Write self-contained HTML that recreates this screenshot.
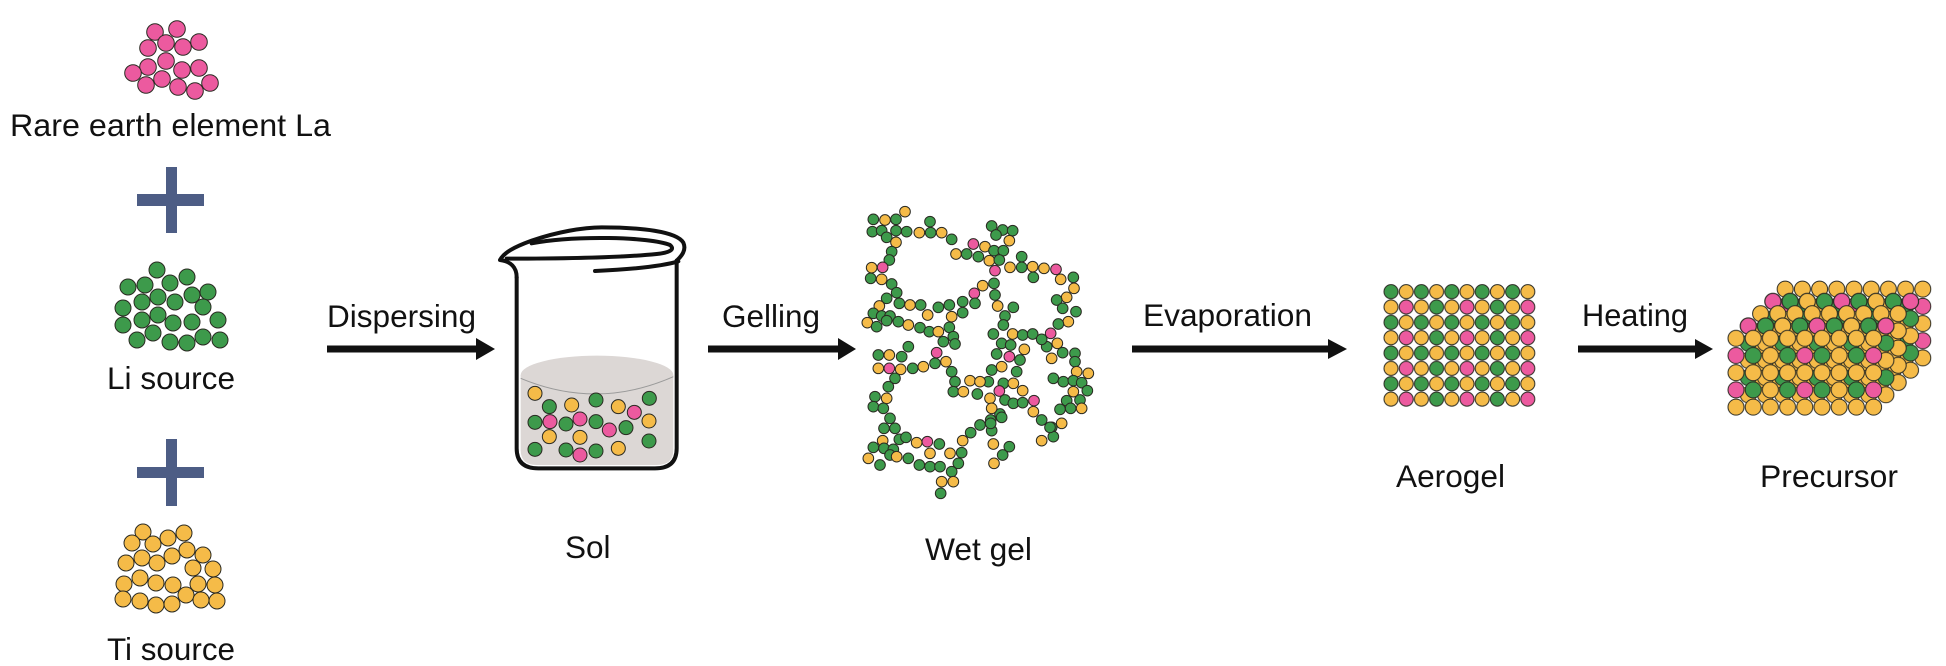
<!DOCTYPE html>
<html><head><meta charset="utf-8"><style>
html,body{margin:0;padding:0;background:#fff;}
svg{display:block;}
text{font-family:"Liberation Sans",Arial,sans-serif;font-size:31.5px;fill:#111;}
.g{fill:#3d9a4b;stroke:#2a2a22;}
.y{fill:#f5bb48;stroke:#2a2a22;}
.p{fill:#ec5a9f;stroke:#2a2a22;}
</style></head><body>
<svg width="1946" height="666" viewBox="0 0 1946 666" xmlns="http://www.w3.org/2000/svg">
<defs>
<pattern id="aer" patternUnits="userSpaceOnUse" width="60.8" height="30.7">
<g stroke-width="1">
<circle class="g" cx="7.6" cy="7.675" r="7"/><circle class="y" cx="22.8" cy="7.675" r="7"/><circle class="g" cx="38" cy="7.675" r="7"/><circle class="y" cx="53.2" cy="7.675" r="7"/>
<circle class="y" cx="7.6" cy="23.025" r="7"/><circle class="p" cx="22.8" cy="23.025" r="7"/><circle class="y" cx="38" cy="23.025" r="7"/><circle class="g" cx="53.2" cy="23.025" r="7"/>
</g></pattern>
<pattern id="pA" patternUnits="userSpaceOnUse" width="68.8" height="34.4">
<g stroke-width="1">
<circle class="y" cx="8.6" cy="8.6" r="8"/><circle class="y" cx="25.8" cy="8.6" r="8"/><circle class="y" cx="43" cy="8.6" r="8"/><circle class="y" cx="60.2" cy="8.6" r="8"/>
<circle class="p" cx="8.6" cy="25.8" r="8"/><circle class="g" cx="25.8" cy="25.8" r="8"/><circle class="y" cx="43" cy="25.8" r="8"/><circle class="g" cx="60.2" cy="25.8" r="8"/>
</g></pattern>
<pattern id="pB" patternUnits="userSpaceOnUse" width="68.8" height="34.4">
<g stroke-width="1">
<circle class="y" cx="8.6" cy="8.6" r="8"/><circle class="y" cx="25.8" cy="8.6" r="8"/><circle class="y" cx="43" cy="8.6" r="8"/><circle class="y" cx="60.2" cy="8.6" r="8"/>
<circle class="g" cx="8.6" cy="25.8" r="8"/><circle class="y" cx="25.8" cy="25.8" r="8"/><circle class="g" cx="43" cy="25.8" r="8"/><circle class="y" cx="60.2" cy="25.8" r="8"/>
</g></pattern>
<pattern id="pC" patternUnits="userSpaceOnUse" width="68.8" height="17.2">
<g stroke-width="1">
<circle class="p" cx="8.6" cy="8.6" r="8"/><circle class="g" cx="25.8" cy="8.6" r="8"/><circle class="y" cx="43" cy="8.6" r="8"/><circle class="g" cx="60.2" cy="8.6" r="8"/>
</g></pattern>
<pattern id="pY" patternUnits="userSpaceOnUse" width="17.2" height="17.2">
<circle class="y" cx="8.6" cy="8.6" r="8" stroke-width="1"/>
</pattern>
</defs>

<!-- Left column -->
<g stroke-width="1">
<circle class="p" cx="155" cy="32" r="8.3"/><circle class="p" cx="177" cy="29" r="8.3"/><circle class="p" cx="148" cy="48" r="8.3"/><circle class="p" cx="166" cy="43" r="8.3"/><circle class="p" cx="183" cy="47" r="8.3"/><circle class="p" cx="199" cy="42" r="8.3"/><circle class="p" cx="148" cy="67" r="8.3"/><circle class="p" cx="166" cy="61" r="8.3"/><circle class="p" cx="182" cy="70" r="8.3"/><circle class="p" cx="199" cy="68" r="8.3"/><circle class="p" cx="133" cy="73" r="8.3"/><circle class="p" cx="146" cy="85" r="8.3"/><circle class="p" cx="162" cy="79" r="8.3"/><circle class="p" cx="178" cy="87" r="8.3"/><circle class="p" cx="195" cy="91" r="8.3"/><circle class="p" cx="210" cy="83" r="8.3"/>
</g>
<text x="10" y="136" textLength="321" lengthAdjust="spacingAndGlyphs">Rare earth element La</text>
<rect x="137" y="194" width="67" height="12" fill="#4d5d85"/><rect x="166" y="167" width="11" height="66" fill="#4d5d85"/>
<g stroke-width="1">
<circle class="g" cx="157" cy="270" r="8"/><circle class="g" cx="145" cy="285" r="8"/><circle class="g" cx="170" cy="283" r="8"/><circle class="g" cx="187" cy="277" r="8"/><circle class="g" cx="128" cy="287" r="8"/><circle class="g" cx="208" cy="292" r="8"/><circle class="g" cx="158" cy="297" r="8"/><circle class="g" cx="192" cy="295" r="8"/><circle class="g" cx="142" cy="302" r="8"/><circle class="g" cx="175" cy="302" r="8"/><circle class="g" cx="203" cy="307" r="8"/><circle class="g" cx="123" cy="308" r="8"/><circle class="g" cx="158" cy="315" r="8"/><circle class="g" cx="142" cy="320" r="8"/><circle class="g" cx="218" cy="320" r="8"/><circle class="g" cx="173" cy="323" r="8"/><circle class="g" cx="192" cy="322" r="8"/><circle class="g" cx="123" cy="325" r="8"/><circle class="g" cx="137" cy="340" r="8"/><circle class="g" cx="153" cy="333" r="8"/><circle class="g" cx="170" cy="342" r="8"/><circle class="g" cx="187" cy="343" r="8"/><circle class="g" cx="203" cy="337" r="8"/><circle class="g" cx="220" cy="340" r="8"/>
</g>
<text x="107" y="389" textLength="128" lengthAdjust="spacingAndGlyphs">Li source</text>
<rect x="137" y="467" width="67" height="11" fill="#4d5d85"/><rect x="166" y="439" width="11" height="67" fill="#4d5d85"/>
<g stroke-width="1">
<circle class="y" cx="143" cy="532" r="8"/><circle class="y" cx="132" cy="543" r="8"/><circle class="y" cx="153" cy="544" r="8"/><circle class="y" cx="168" cy="538" r="8"/><circle class="y" cx="184" cy="533" r="8"/><circle class="y" cx="142" cy="558" r="8"/><circle class="y" cx="126" cy="563" r="8"/><circle class="y" cx="157" cy="563" r="8"/><circle class="y" cx="172" cy="556" r="8"/><circle class="y" cx="187" cy="550" r="8"/><circle class="y" cx="203" cy="555" r="8"/><circle class="y" cx="193" cy="568" r="8"/><circle class="y" cx="213" cy="569" r="8"/><circle class="y" cx="124" cy="584" r="8"/><circle class="y" cx="140" cy="578" r="8"/><circle class="y" cx="156" cy="583" r="8"/><circle class="y" cx="173" cy="585" r="8"/><circle class="y" cx="198" cy="584" r="8"/><circle class="y" cx="215" cy="585" r="8"/><circle class="y" cx="123" cy="599" r="8"/><circle class="y" cx="140" cy="601" r="8"/><circle class="y" cx="156" cy="605" r="8"/><circle class="y" cx="172" cy="604" r="8"/><circle class="y" cx="186" cy="595" r="8"/><circle class="y" cx="201" cy="600" r="8"/><circle class="y" cx="217" cy="601" r="8"/>
</g>
<text x="107" y="660" textLength="128" lengthAdjust="spacingAndGlyphs">Ti source</text>

<!-- Arrows and labels -->
<text x="327" y="327" textLength="149" lengthAdjust="spacingAndGlyphs">Dispersing</text>
<rect x="327" y="345.5" width="152" height="7" fill="#111"/><polygon points="476,338 495,349 476,360" fill="#111"/>
<text x="722" y="327" textLength="98" lengthAdjust="spacingAndGlyphs">Gelling</text>
<rect x="708" y="345.5" width="133" height="7" fill="#111"/><polygon points="838,338 856,349 838,360" fill="#111"/>
<text x="1143" y="326" textLength="169" lengthAdjust="spacingAndGlyphs">Evaporation</text>
<rect x="1132" y="345.5" width="199" height="7" fill="#111"/><polygon points="1328,339 1347,349 1328,359" fill="#111"/>
<text x="1582" y="326" textLength="106" lengthAdjust="spacingAndGlyphs">Heating</text>
<rect x="1578" y="345.5" width="120" height="7" fill="#111"/><polygon points="1695,339 1713,349 1695,359" fill="#111"/>

<!-- Beaker -->
<g transform="translate(490,190) scale(0.33333)">
<path d="M92,555 L92,780 Q92,825 140,825 L500,825 Q550,825 550,780 L550,555 Z" fill="#dcd7d5"/>
<ellipse cx="321" cy="555" rx="229" ry="58" fill="#dcd7d5"/>
<path d="M92,565 Q321,661 550,560" fill="none" stroke="#9a9a9a" stroke-width="3"/>
<g stroke-width="3">
<circle class="y" cx="135" cy="610" r="21"/><circle class="g" cx="178" cy="650" r="21"/><circle class="y" cx="245" cy="645" r="21"/><circle class="g" cx="318" cy="630" r="21"/><circle class="y" cx="385" cy="650" r="21"/><circle class="g" cx="478" cy="625" r="21"/>
<circle class="g" cx="135" cy="697" r="21"/><circle class="p" cx="180" cy="695" r="21"/><circle class="g" cx="228" cy="702" r="21"/><circle class="p" cx="270" cy="687" r="21"/><circle class="g" cx="318" cy="695" r="21"/><circle class="p" cx="358" cy="720" r="21"/><circle class="g" cx="408" cy="713" r="21"/><circle class="p" cx="433" cy="667" r="21"/><circle class="y" cx="477" cy="693" r="21"/>
<circle class="y" cx="178" cy="740" r="21"/><circle class="y" cx="270" cy="742" r="21"/><circle class="g" cx="477" cy="753" r="21"/>
<circle class="g" cx="135" cy="778" r="21"/><circle class="g" cx="228" cy="780" r="21"/><circle class="p" cx="270" cy="795" r="21"/><circle class="g" cx="318" cy="783" r="21"/><circle class="y" cx="385" cy="775" r="21"/>
</g>
<g fill="none" stroke="#111" stroke-width="12" stroke-linecap="round" stroke-linejoin="round">
<path d="M80,262 L80,775 Q80,835 145,835 L495,835 Q560,835 560,775 L560,212"/>
<path d="M80,262 C80,232 62,214 30,210 C42,188 70,172 125,152 C200,126 280,112 335,112 C450,112 560,124 580,158 C590,180 575,198 560,212"/>
<path d="M125,160 C250,136 480,140 540,165 C556,178 540,188 500,192 C380,204 200,206 50,206"/>
<path d="M315,243 C420,238 520,228 565,214"/>
</g>
</g>
<text x="565" y="558">Sol</text>

<!-- Wet gel -->
<g transform="translate(840,190) scale(0.33333)" stroke-width="3">
<circle class="y" cx="195" cy="65" r="16"/><circle class="g" cx="100" cy="88" r="16"/><circle class="y" cx="135" cy="90" r="16"/><circle class="g" cx="168" cy="88" r="16"/>
<circle class="g" cx="97" cy="125" r="16"/><circle class="g" cx="125" cy="122" r="16"/><circle class="g" cx="168" cy="122" r="16"/><circle class="g" cx="200" cy="125" r="16"/><circle class="y" cx="238" cy="128" r="16"/><circle class="g" cx="272" cy="128" r="16"/><circle class="y" cx="305" cy="128" r="16"/>
<circle class="g" cx="270" cy="95" r="16"/><circle class="g" cx="140" cy="142" r="16"/><circle class="y" cx="168" cy="157" r="16"/><circle class="g" cx="335" cy="148" r="16"/>
<circle class="g" cx="155" cy="185" r="16"/><circle class="g" cx="148" cy="210" r="16"/><circle class="y" cx="95" cy="233" r="16"/><circle class="p" cx="128" cy="232" r="16"/>
<circle class="g" cx="92" cy="265" r="16"/><circle class="y" cx="125" cy="268" r="16"/><circle class="g" cx="155" cy="282" r="16"/><circle class="g" cx="170" cy="308" r="16"/>
<circle class="g" cx="140" cy="325" r="16"/><circle class="y" cx="118" cy="348" r="16"/><circle class="g" cx="178" cy="340" r="16"/><circle class="y" cx="210" cy="345" r="16"/><circle class="g" cx="242" cy="345" r="16"/>
<circle class="g" cx="295" cy="352" r="16"/><circle class="g" cx="328" cy="345" r="16"/><circle class="g" cx="368" cy="335" r="16"/><circle class="y" cx="263" cy="375" r="16"/><circle class="y" cx="335" cy="380" r="16"/><circle class="g" cx="368" cy="368" r="16"/>
<circle class="g" cx="100" cy="370" r="16"/><circle class="g" cx="125" cy="378" r="16"/><circle class="g" cx="150" cy="378" r="16"/><circle class="y" cx="82" cy="398" r="16"/><circle class="g" cx="110" cy="410" r="16"/><circle class="g" cx="140" cy="392" r="16"/>
<circle class="g" cx="175" cy="395" r="16"/><circle class="y" cx="205" cy="405" r="16"/><circle class="g" cx="240" cy="413" r="16"/><circle class="g" cx="268" cy="425" r="16"/><circle class="y" cx="295" cy="425" r="16"/><circle class="g" cx="328" cy="412" r="16"/><circle class="g" cx="340" cy="440" r="16"/><circle class="g" cx="310" cy="455" r="16"/><circle class="g" cx="345" cy="462" r="16"/>
<circle class="p" cx="290" cy="488" r="16"/><circle class="g" cx="285" cy="520" r="16"/><circle class="y" cx="318" cy="515" r="16"/><circle class="g" cx="335" cy="545" r="16"/><circle class="g" cx="345" cy="575" r="16"/><circle class="g" cx="340" cy="605" r="16"/><circle class="y" cx="370" cy="605" r="16"/>
<circle class="g" cx="205" cy="470" r="16"/><circle class="g" cx="115" cy="495" r="16"/><circle class="y" cx="148" cy="495" r="16"/><circle class="g" cx="185" cy="500" r="16"/>
<circle class="y" cx="115" cy="535" r="16"/><circle class="p" cx="148" cy="535" r="16"/><circle class="y" cx="182" cy="538" r="16"/><circle class="g" cx="218" cy="535" r="16"/><circle class="y" cx="250" cy="530" r="16"/>
<circle class="g" cx="165" cy="565" r="16"/><circle class="g" cx="145" cy="590" r="16"/><circle class="y" cx="140" cy="625" r="16"/>
<circle class="g" cx="105" cy="620" r="16"/><circle class="g" cx="100" cy="650" r="16"/><circle class="g" cx="130" cy="655" r="16"/><circle class="g" cx="150" cy="685" r="16"/><circle class="g" cx="132" cy="715" r="16"/><circle class="g" cx="165" cy="715" r="16"/><circle class="g" cx="178" cy="748" r="16"/>
<circle class="y" cx="128" cy="752" r="16"/><circle class="g" cx="100" cy="772" r="16"/><circle class="g" cx="132" cy="775" r="16"/><circle class="g" cx="160" cy="778" r="16"/><circle class="y" cx="85" cy="805" r="16"/><circle class="g" cx="120" cy="825" r="16"/><circle class="g" cx="150" cy="795" r="16"/>
<circle class="y" cx="170" cy="800" r="16"/><circle class="g" cx="205" cy="805" r="16"/><circle class="g" cx="238" cy="825" r="16"/><circle class="g" cx="270" cy="830" r="16"/><circle class="g" cx="300" cy="830" r="16"/><circle class="g" cx="335" cy="845" r="16"/><circle class="g" cx="355" cy="820" r="16"/>
<circle class="y" cx="305" cy="875" r="16"/><circle class="y" cx="340" cy="875" r="16"/><circle class="g" cx="302" cy="910" r="16"/>
<circle class="g" cx="198" cy="742" r="16"/><circle class="y" cx="230" cy="758" r="16"/><circle class="p" cx="262" cy="755" r="16"/><circle class="g" cx="298" cy="762" r="16"/><circle class="y" cx="270" cy="790" r="16"/><circle class="y" cx="330" cy="790" r="16"/><circle class="g" cx="365" cy="788" r="16"/><circle class="y" cx="368" cy="752" r="16"/>
<circle class="g" cx="392" cy="728" r="16"/><circle class="g" cx="420" cy="705" r="16"/><circle class="g" cx="452" cy="690" r="16"/><circle class="g" cx="480" cy="672" r="16"/><circle class="g" cx="455" cy="722" r="16"/><circle class="y" cx="460" cy="762" r="16"/><circle class="g" cx="508" cy="770" r="16"/><circle class="y" cx="462" cy="820" r="16"/><circle class="g" cx="488" cy="795" r="16"/>
<circle class="y" cx="348" cy="192" r="16"/><circle class="g" cx="380" cy="192" r="16"/><circle class="p" cx="400" cy="162" r="16"/><circle class="y" cx="435" cy="170" r="16"/><circle class="g" cx="415" cy="200" r="16"/><circle class="y" cx="448" cy="212" r="16"/><circle class="g" cx="462" cy="182" r="16"/><circle class="g" cx="490" cy="182" r="16"/><circle class="g" cx="478" cy="210" r="16"/>
<circle class="g" cx="455" cy="108" r="16"/><circle class="g" cx="488" cy="120" r="16"/><circle class="g" cx="518" cy="122" r="16"/><circle class="g" cx="468" cy="135" r="16"/><circle class="y" cx="508" cy="152" r="16"/>
<circle class="p" cx="465" cy="242" r="16"/><circle class="y" cx="510" cy="232" r="16"/><circle class="g" cx="545" cy="232" r="16"/><circle class="g" cx="545" cy="200" r="16"/><circle class="y" cx="578" cy="230" r="16"/><circle class="y" cx="612" cy="235" r="16"/><circle class="p" cx="648" cy="238" r="16"/><circle class="g" cx="580" cy="262" r="16"/><circle class="y" cx="662" cy="268" r="16"/><circle class="g" cx="700" cy="262" r="16"/>
<circle class="y" cx="702" cy="295" r="16"/><circle class="y" cx="680" cy="322" r="16"/><circle class="g" cx="650" cy="330" r="16"/><circle class="g" cx="668" cy="355" r="16"/><circle class="g" cx="708" cy="365" r="16"/><circle class="y" cx="685" cy="395" r="16"/><circle class="g" cx="655" cy="402" r="16"/><circle class="p" cx="632" cy="430" r="16"/><circle class="y" cx="652" cy="460" r="16"/><circle class="g" cx="620" cy="470" r="16"/>
<circle class="y" cx="635" cy="505" r="16"/><circle class="g" cx="668" cy="488" r="16"/><circle class="g" cx="705" cy="490" r="16"/><circle class="g" cx="705" cy="515" r="16"/><circle class="y" cx="710" cy="545" r="16"/><circle class="y" cx="745" cy="550" r="16"/>
<circle class="g" cx="640" cy="565" r="16"/><circle class="g" cx="670" cy="575" r="16"/><circle class="g" cx="700" cy="572" r="16"/><circle class="g" cx="725" cy="578" r="16"/><circle class="g" cx="742" cy="602" r="16"/><circle class="y" cx="700" cy="605" r="16"/><circle class="g" cx="720" cy="630" r="16"/><circle class="g" cx="680" cy="632" r="16"/><circle class="g" cx="660" cy="658" r="16"/><circle class="g" cx="692" cy="655" r="16"/><circle class="y" cx="725" cy="655" r="16"/>
<circle class="y" cx="665" cy="700" r="16"/><circle class="g" cx="635" cy="712" r="16"/><circle class="g" cx="640" cy="740" r="16"/><circle class="y" cx="605" cy="752" r="16"/>
<circle class="y" cx="428" cy="287" r="16"/><circle class="p" cx="403" cy="310" r="16"/><circle class="g" cx="405" cy="340" r="16"/><circle class="g" cx="462" cy="280" r="16"/><circle class="g" cx="465" cy="315" r="16"/><circle class="y" cx="473" cy="348" r="16"/><circle class="g" cx="520" cy="352" r="16"/><circle class="g" cx="495" cy="378" r="16"/><circle class="g" cx="490" cy="405" r="16"/>
<circle class="g" cx="460" cy="432" r="16"/><circle class="y" cx="518" cy="432" r="16"/><circle class="g" cx="548" cy="435" r="16"/><circle class="g" cx="578" cy="432" r="16"/><circle class="g" cx="605" cy="448" r="16"/><circle class="g" cx="485" cy="460" r="16"/><circle class="g" cx="512" cy="465" r="16"/><circle class="p" cx="508" cy="500" r="16"/><circle class="y" cx="553" cy="478" r="16"/><circle class="g" cx="540" cy="510" r="16"/>
<circle class="g" cx="470" cy="492" r="16"/><circle class="y" cx="485" cy="530" r="16"/><circle class="g" cx="530" cy="545" r="16"/><circle class="g" cx="455" cy="540" r="16"/><circle class="g" cx="445" cy="575" r="16"/><circle class="g" cx="490" cy="580" r="16"/><circle class="y" cx="520" cy="580" r="16"/><circle class="y" cx="548" cy="602" r="16"/>
<circle class="y" cx="390" cy="572" r="16"/><circle class="y" cx="420" cy="575" r="16"/><circle class="g" cx="412" cy="612" r="16"/><circle class="y" cx="450" cy="625" r="16"/><circle class="p" cx="478" cy="603" r="16"/><circle class="g" cx="495" cy="630" r="16"/><circle class="g" cx="520" cy="640" r="16"/><circle class="g" cx="548" cy="638" r="16"/><circle class="p" cx="582" cy="632" r="16"/><circle class="y" cx="580" cy="665" r="16"/><circle class="g" cx="605" cy="690" r="16"/><circle class="g" cx="630" cy="712" r="16"/>
<circle class="y" cx="455" cy="655" r="16"/><circle class="g" cx="485" cy="682" r="16"/><circle class="g" cx="452" cy="700" r="16"/>
</g>
<text x="925" y="560" textLength="107" lengthAdjust="spacingAndGlyphs">Wet gel</text>

<!-- Aerogel -->
<g transform="translate(1383.4,284)"><rect width="152" height="122.8" fill="url(#aer)"/></g>
<text x="1396" y="487" textLength="109" lengthAdjust="spacingAndGlyphs">Aerogel</text>

<!-- Precursor -->
<g transform="translate(1776.6,280.5)"><rect width="154.8" height="86" fill="url(#pA)"/></g>
<g transform="translate(1764.3,292.8)"><rect width="154.8" height="86" fill="url(#pB)"/><rect width="154.8" height="17.2" fill="url(#pC)"/></g>
<g transform="translate(1752,305.1)"><rect width="154.8" height="86" fill="url(#pY)"/></g>
<g transform="translate(1739.7,317.4)"><rect width="154.8" height="86" fill="url(#pB)"/><rect width="154.8" height="17.2" fill="url(#pC)"/></g>
<g transform="translate(1727.4,329.7)"><rect width="154.8" height="86" fill="url(#pA)"/></g>
<text x="1760" y="487" textLength="138" lengthAdjust="spacingAndGlyphs">Precursor</text>
</svg>
</body></html>
